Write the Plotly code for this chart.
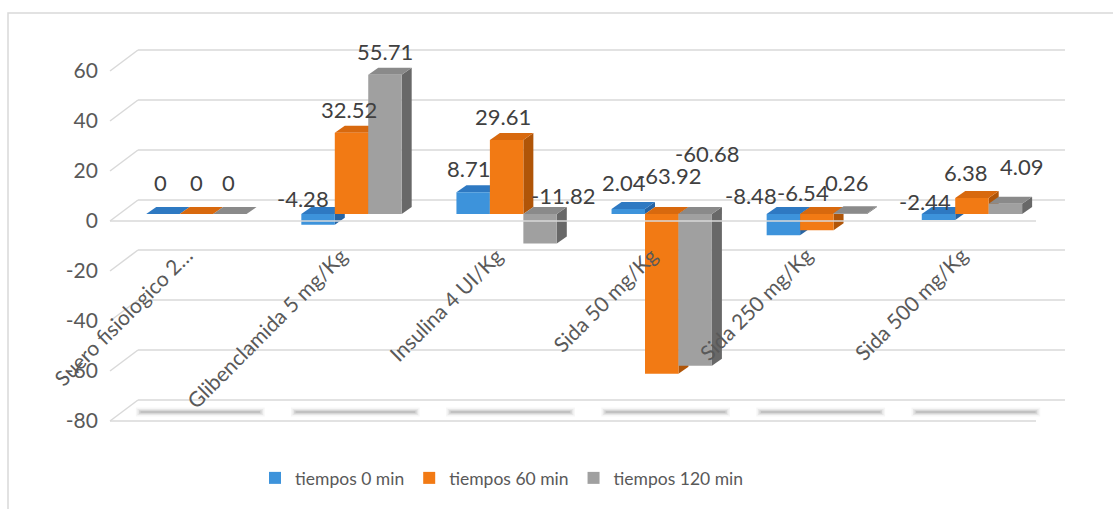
import plotly.graph_objects as go

# ---------------- data ----------------
categories = ["Suero fisiologico 2…", "Glibenclamida 5 mg/Kg", "Insulina 4 UI/Kg",
              "Sida 50 mg/Kg", "Sida 250 mg/Kg", "Sida 500 mg/Kg"]
series_names = ["tiempos 0 min", "tiempos 60 min", "tiempos 120 min"]
tiempos_0 = [0, -4.28, 8.71, 2.04, -8.48, -2.44]
tiempos_60 = [0, 32.52, 29.61, -63.92, -6.54, 6.38]
tiempos_120 = [0, 55.71, -11.82, -60.68, 0.26, 4.09]
y_tick_values = [-80, -60, -40, -20, 0, 20, 40, 60]

series_values = [tiempos_0, tiempos_60, tiempos_120]

# ---------------- style / geometry ----------------
W, H = 1113, 509
ML, MR, MT, MB = 110, 48, 30, 79
PLOT_W = W - ML - MR
PLOT_H = H - MT - MB
Y_RANGE = [-86.4, 73.6]
PX_Y = PLOT_H / (Y_RANGE[1] - Y_RANGE[0])        # px per value unit
X_DOMAIN_PX = (118.85, 1049.5)
PX_X = (X_DOMAIN_PX[1] - X_DOMAIN_PX[0]) / len(categories)  # px per category
BARGAP = 0.353
BW = (1 - BARGAP) / 3
DEPTH_DX = 10 / PX_X
DEPTH_DY = 7 / PX_Y
FRONT_OFF = -2.8       # front plane offset (value units)
BACK_OFF = 5.6         # back wall offset (value units)
BACK_LEFT = 28 / PLOT_W
FRONT_RIGHT = (1036 - ML) / PLOT_W
GRID = "#D9D9D9"
FONT = "Lato"
TXT = "#595959"

front_col = ["#3D93DB", "#F27A14", "#A0A0A0"]
top_col = ["#2E79C2", "#D8690E", "#8A8A8A"]
side_col = ["#2764A3", "#B05508", "#686868"]

# label nudges (pixels: dx, dy) per series / category, mimicking Excel's 3D label placement
label_nudge_px = [
    [(-2, -7), (-15, 1.5), (-5, 1), (-4, -1), (-32, -1.5), (-13, 4.5)],
    [(0, -7), (-3, 2), (-4, 2), (7, -21.5), (-14, -4.5), (-6, -1)],
    [(-1, -7), (0, 2), (23, -1.5), (12, -43.5), (-4, -6), (16, -12)],
]

x_idx = list(range(len(categories)))
y_min = min(y_tick_values)

fig = go.Figure()
for k, (name, vals) in enumerate(zip(series_names, series_values)):
    fig.add_trace(go.Bar(
        x=x_idx, y=vals, name=name,
        marker=dict(color=front_col[k], line=dict(width=0)),
        hoverinfo="y+name",
    ))

shapes = []
# ---- perspective gridlines ----
for v in y_tick_values:
    shapes.append(dict(type="line", xref="paper", yref="y", layer="below",
                       x0=BACK_LEFT, x1=1.0, y0=v + BACK_OFF, y1=v + BACK_OFF,
                       line=dict(color=GRID, width=1.5)))
    shapes.append(dict(type="line", xref="paper", yref="y", layer="below",
                       x0=0, x1=BACK_LEFT, y0=v + FRONT_OFF, y1=v + BACK_OFF,
                       line=dict(color=GRID, width=1.5)))
# floor at the axis minimum
shapes.append(dict(type="line", xref="paper", yref="y", layer="below",
                   x0=0, x1=FRONT_RIGHT, y0=y_min + FRONT_OFF, y1=y_min + FRONT_OFF,
                   line=dict(color=GRID, width=1.5)))
# shadows on floor
for i in x_idx:
    for wdt, alpha, ext in [(9, 0.05, 0.0), (6, 0.08, 0.01), (3.5, 0.13, 0.02), (1.5, 0.16, 0.03)]:
        shapes.append(dict(type="line", xref="x", yref="y", layer="below",
                           x0=i - 0.39 + ext, x1=i + 0.44 - ext,
                           y0=y_min + 0.8, y1=y_min + 0.8,
                           line=dict(color=f"rgba(70,70,70,{alpha})", width=wdt)))

# ---- 3D faces of the bars ----
for k, vals in enumerate(series_values):
    for i, v in enumerate(vals):
        c = i + (k - 1) * BW
        xl, xr = c - BW / 2, c + BW / 2
        hi, lo = max(v, 0), min(v, 0)
        if hi > lo:
            shapes.append(dict(
                type="path", xref="x", yref="y", layer="below",
                path=f"M{xr},{lo} L{xr},{hi} L{xr + DEPTH_DX},{hi + DEPTH_DY} "
                     f"L{xr + DEPTH_DX},{lo + DEPTH_DY} Z",
                fillcolor=side_col[k], line=dict(width=0)))
        shapes.append(dict(
            type="path", xref="x", yref="y", layer="below",
            path=f"M{xl},{hi} L{xr},{hi} L{xr + DEPTH_DX},{hi + DEPTH_DY} "
                 f"L{xl + DEPTH_DX},{hi + DEPTH_DY} Z",
            fillcolor=top_col[k], line=dict(width=0)))

# front edge of zero floor drawn over bars
shapes.append(dict(type="line", xref="paper", yref="y", layer="above",
                   x0=0, x1=FRONT_RIGHT, y0=FRONT_OFF, y1=FRONT_OFF,
                   line=dict(color=GRID, width=1.5)))

# chart border
shapes.append(dict(type="rect", xref="paper", yref="paper", layer="below",
                   x0=(8 - ML) / PLOT_W, x1=1.3,
                   y0=-0.4, y1=1 + (MT - 13) / PLOT_H,
                   line=dict(color=GRID, width=1.5)))

annotations = []
# data labels
for k, vals in enumerate(series_values):
    for i, v in enumerate(vals):
        c = i + (k - 1) * BW
        ly = v + 10 if v >= 0 else 7
        ndx, ndy = label_nudge_px[k][i]
        annotations.append(dict(x=c + ndx / PX_X, y=ly - ndy / PX_Y, xref="x", yref="y",
                                text=f"{v:g}", showarrow=False,
                                xanchor="center", yanchor="middle",
                                font=dict(family=FONT, size=22, color="#404040")))
# category labels
for i, cat in enumerate(categories):
    annotations.append(dict(x=i + 0.02, y=-10.4, xref="x", yref="y", text=cat,
                            showarrow=False, textangle=-45,
                            xanchor="right", yanchor="top",
                            font=dict(family=FONT, size=21, color=TXT)))

fig.update_layout(
    width=W, height=H,
    margin=dict(l=ML, r=MR, t=MT, b=MB),
    paper_bgcolor="white", plot_bgcolor="white",
    barmode="group", bargap=BARGAP, bargroupgap=0,
    showlegend=True,
    legend=dict(orientation="h", x=(502 - ML) / PLOT_W, xanchor="center",
                y=(H - MB - 478) / PLOT_H, yanchor="middle",
                font=dict(family=FONT, size=17.5, color=TXT), itemclick=False,
                itemwidth=30),
    xaxis=dict(type="linear", range=[-0.5, len(categories) - 0.5],
               domain=[(X_DOMAIN_PX[0] - ML) / PLOT_W, (X_DOMAIN_PX[1] - ML) / PLOT_W],
               visible=False, fixedrange=True),
    yaxis=dict(range=Y_RANGE, showgrid=False, zeroline=False, showline=False,
               tickvals=[v + FRONT_OFF for v in y_tick_values],
               ticktext=[str(v) for v in y_tick_values],
               ticklabelstandoff=20,
               tickfont=dict(family=FONT, size=21, color=TXT), fixedrange=True),
    shapes=shapes,
    annotations=annotations,
)

fig.write_html("out.html")
